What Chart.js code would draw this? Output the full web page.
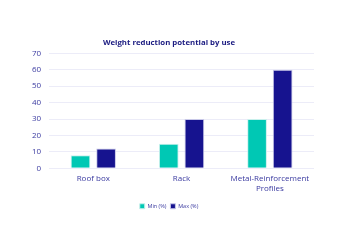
<!DOCTYPE html>
<html>
<head>
<meta charset="utf-8">
<script src="https://cdn.jsdelivr.net/npm/chart.js@4"></script>
<style>
  html, body { margin: 0; padding: 0; background: #fff; }
  #wrap { width: 340px; height: 250px; }
</style>
</head>
<body>
<div id="wrap"><canvas id="weightChart"></canvas></div>
<script>
const categories = [['Roof box'], ['Rack'], ['Metal-Reinforcement', 'Profiles']];
const minValues = [8, 15, 30];
const maxValues = [12, 30, 60];
const seriesNames = ['Min (%)', 'Max (%)'];

const ctx = document.getElementById('weightChart').getContext('2d');

new Chart(ctx, {
    type: 'bar',
    data: {
        labels: categories,
        datasets: [{
            label: seriesNames[0],
            data: minValues,
            backgroundColor: '#00c8b4',
            borderColor: '#c8f0ec',
            borderWidth: 1,
            categoryPercentage: 0.58,
            barPercentage: 0.77
        }, {
            label: seriesNames[1],
            data: maxValues,
            backgroundColor: '#16138f',
            borderColor: '#c8c8e8',
            borderWidth: 1,
            categoryPercentage: 0.58,
            barPercentage: 0.77
        }]
    },
    options: {
        responsive: true,
        maintainAspectRatio: false,
        animation: false,
        layout: { padding: { left: 24, right: 26, top: 2, bottom: 31 } },
        plugins: {
            title: {
                display: true,
                text: 'Weight reduction potential by use',
                color: '#1a1a80',
                font: { family: 'Open Sans', size: 7.8, weight: 'bold' },
                padding: { top: 36, bottom: 6 }
            },
            legend: {
                position: 'bottom',
                labels: {
                    color: '#3a3aa0',
                    font: { family: 'Open Sans', size: 5.5 },
                    boxWidth: 5,
                    boxHeight: 5,
                    padding: 4
                }
            },
            tooltip: { enabled: false }
        },
        scales: {
            x: {
                grid: { display: false, drawTicks: false },
                border: { display: false },
                ticks: {
                    color: '#3a3aa0',
                    font: { family: 'Open Sans', size: 8 },
                    maxRotation: 0,
                    autoSkip: false,
                    padding: 6
                }
            },
            y: {
                min: 0,
                max: 70,
                grid: { color: '#ececf8', drawTicks: false },
                border: { display: false },
                ticks: {
                    stepSize: 10,
                    color: '#3a3aa0',
                    font: { family: 'Open Sans', size: 8 },
                    padding: 8
                }
            }
        }
    }
});
</script>
</body>
</html>
